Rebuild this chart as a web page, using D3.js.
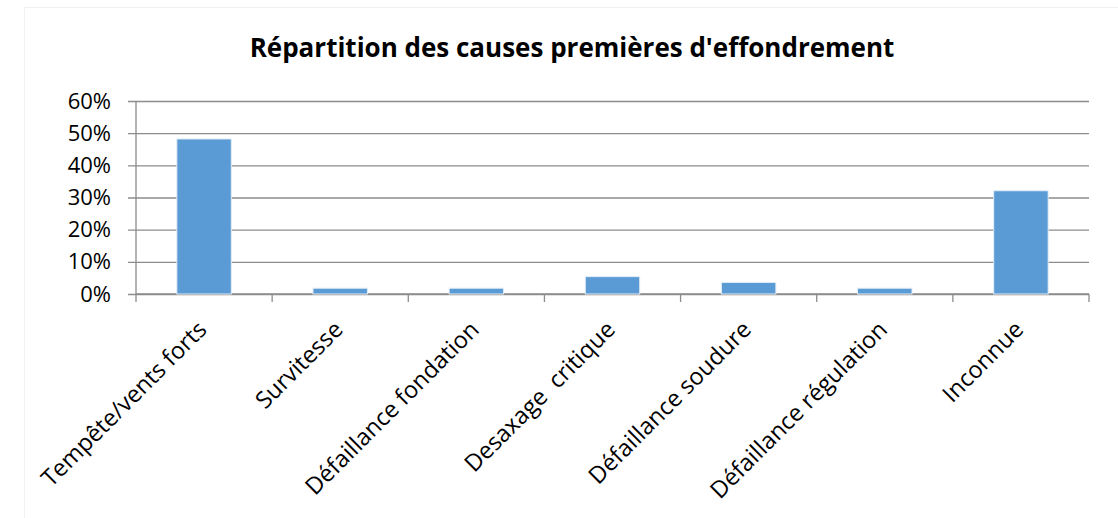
<!DOCTYPE html>
<html>
<head>
<meta charset="utf-8">
<script src="https://cdn.jsdelivr.net/npm/d3@7"></script>
<style>
  body { margin: 0; background: #fff; }
  text { font-family: "Open Sans", Lato, sans-serif; }
</style>
</head>
<body>
<div id="main-chart"></div>
<script>
// chart values
let categories = ['Tempête/vents forts', 'Survitesse', 'Défaillance fondation', 'Desaxage  critique',
                  'Défaillance soudure', 'Défaillance régulation', 'Inconnue'];
let shares = [0.482, 0.018, 0.018, 0.054, 0.036, 0.018, 0.321];
let yTicks = [0, 0.1, 0.2, 0.3, 0.4, 0.5, 0.6];
let title = "Répartition des causes premières d'effondrement";

let W = 1118, H = 518;
let margin = {left:136, top:101, right:29, bottom:224},
    width = W - margin.left - margin.right,
    height = H - margin.top - margin.bottom;

let x = d3.scaleBand()
          .domain(categories)
          .range([0, width])
          .paddingInner(0.6)
          .paddingOuter(0.3);

let y = d3.scaleLinear()
          .domain([0, 0.6])
          .range([height, 0]);

let root = d3.select('#main-chart')
             .append('svg')
             .attr('width', W)
             .attr('height', H);

// faint chart-area border
root.append('rect')
    .attr('x', 24.5).attr('y', 7.5)
    .attr('width', W - 24).attr('height', H - 7)
    .attr('fill', 'none')
    .attr('stroke', '#f2f2f2');

root.append('text')
    .attr('x', 572)
    .attr('y', 57)
    .attr('text-anchor', 'middle')
    .style('font-size', '26px')
    .style('font-weight', 'bold')
    .text(title);

let svg = root.append('g')
              .attr('transform', `translate(${margin.left}, ${margin.top})`);

// gridlines + y labels
let yAxis = svg.append('g')
   .call(d3.axisLeft(y).tickValues(yTicks).tickSize(-width).tickPadding(25).tickFormat(d3.format('.0%')));
yAxis.select('.domain').remove();
yAxis.selectAll('line')
     .attr('x1', -8)
     .attr('stroke', '#8c8c8c')
     .attr('stroke-width', 1.3);
yAxis.selectAll('text')
     .style('font-size', '22px')
     .style('font-family', '"Open Sans", Lato, sans-serif')
     .attr('fill', '#000');

// vertical axis line
svg.append('line')
   .attr('x1', 0).attr('x2', 0)
   .attr('y1', 0).attr('y2', height)
   .attr('stroke', '#8c8c8c')
   .attr('stroke-width', 1.3);

// category boundary ticks
let bounds = d3.range(categories.length + 1).map(i => i * width / categories.length);
svg.append('g')
   .selectAll('line')
   .data(bounds)
   .join('line')
   .attr('x1', d => d).attr('x2', d => d)
   .attr('y1', height).attr('y2', height + 8)
   .attr('stroke', '#8c8c8c')
   .attr('stroke-width', 1.3);

svg.append('line')
   .attr('x1', 0).attr('x2', width)
   .attr('y1', height).attr('y2', height)
   .attr('stroke', '#8c8c8c')
   .attr('stroke-width', 1.3);

// bars
svg.selectAll('.bar')
   .data(categories)
   .join('rect')
   .attr('class', 'bar')
   .attr('x', d => x(d))
   .attr('y', (d, i) => y(shares[i]))
   .attr('width', x.bandwidth())
   .attr('height', (d, i) => height - y(shares[i]))
   .attr('fill', '#5b9bd5')
   .attr('stroke', '#e3eef8')
   .attr('stroke-width', 1);

// rotated category labels
svg.selectAll('.cat-label')
   .data(categories)
   .join('text')
   .attr('class', 'cat-label')
   .attr('text-anchor', 'end')
   .style('font-size', '23.5px')
   .style('white-space', 'pre')
   .attr('transform', d => `translate(${x(d) + x.bandwidth() / 2 + 4}, ${height + 37}) rotate(-45)`)
   .text(d => d);
</script>
</body>
</html>
